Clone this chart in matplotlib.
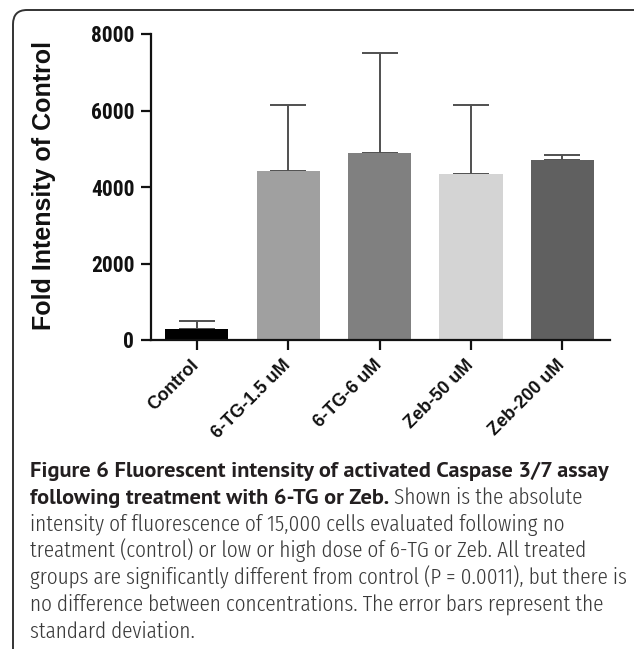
import matplotlib
matplotlib.use("Agg")
import matplotlib.pyplot as plt
from matplotlib.patches import FancyBboxPatch

categories = ["Control", "6-TG-1.5 uM", "6-TG-6 uM", "Zeb-50 uM", "Zeb-200 uM"]
means = [300, 4410, 4900, 4340, 4700]
sds = [190, 1740, 2600, 1810, 130]
colors = ["#000000", "#a0a0a0", "#808080", "#d4d4d4", "#606060"]
yticks = [0, 2000, 4000, 6000, 8000]

caption_lines = [
    [("Figure 6 Fluorescent intensity of activated Caspase 3/7 assay", "bold")],
    [("following treatment with 6-TG or Zeb.", "bold"), (" Shown is the absolute", "normal")],
    [("intensity of fluorescence of 15,000 cells evaluated following no", "normal")],
    [("treatment (control) or low or high dose of 6-TG or Zeb. All treated", "normal")],
    [("groups are significantly different from control (P = 0.0011), but there is", "normal")],
    [("no difference between concentrations. The error bars represent the", "normal")],
    [("standard deviation.", "normal")],
]

W, H = 634, 649
fig = plt.figure(figsize=(W / 100, H / 100), dpi=100)

# frame
frame = FancyBboxPatch((13 / W, -0.2), 1.2, (H - 10) / H + 0.2,
                       boxstyle="round,pad=0,rounding_size=0.022",
                       transform=fig.transFigure, fill=False,
                       edgecolor="#333333", linewidth=1.4, clip_on=False)
fig.patches.append(frame)

ax_l, ax_r, ax_t, ax_b = 151, 610, 34, 340
ax = fig.add_axes([ax_l / W, 1 - ax_b / H, (ax_r - ax_l) / W, (ax_b - ax_t) / H])
x = list(range(len(categories)))
ax.bar(x, means, width=0.69, color=colors, zorder=2)
ax.errorbar(x, means, yerr=[[0] * len(sds), sds], fmt="none", ecolor="#505050",
            elinewidth=1.4, capsize=13, capthick=1.4, zorder=1)
ax.set_xlim(-0.5, 4.52)
ax.set_ylim(0, 8000)
ax.set_yticks(yticks)
ax.set_yticklabels([str(v) for v in yticks], fontfamily=["Roboto Condensed", "DejaVu Sans"],
                   fontweight="bold", fontsize=15.5, color="#111111")
ax.set_xticks(x)
ax.set_xticklabels(categories, rotation=45, ha="right", va="center", rotation_mode="anchor",
                   fontfamily="Liberation Sans", fontweight="bold", fontsize=13, color="#111111")
for s in ["top", "right"]:
    ax.spines[s].set_visible(False)
for s in ["left", "bottom"]:
    ax.spines[s].set_linewidth(1.6)
    ax.spines[s].set_color("#111111")
ax.tick_params(axis="both", length=7, width=1.6, color="#111111", direction="out")
ax.tick_params(axis="x", pad=9)
ax.tick_params(axis="y", pad=5)

fig.text(44 / W, 1 - 186 / H, "Fold Intensity of Control", rotation=90,
         ha="center", va="center", fontfamily="Liberation Sans",
         fontweight="bold", fontsize=18, color="#111111")

# caption
fonts = {"bold": ["PT Sans", "DejaVu Sans"],
         "normal": ["Fira Sans Extra Condensed", "PT Sans Narrow", "DejaVu Sans"]}
weights = {"bold": "bold", "normal": 300}
fig.canvas.draw()
renderer = fig.canvas.get_renderer()

def width_of(text, kind, size):
    t = fig.text(0, 0, text, fontfamily=fonts[kind], fontweight=weights[kind], fontsize=size)
    w = t.get_window_extent(renderer=renderer).width
    t.remove()
    return w

bold_size = 12.0 * 581 / width_of(caption_lines[0][0][0], "bold", 12.0)
reg_targets = [553, 582, 577, 555]
reg_measured = [width_of(caption_lines[k][0][0], "normal", 12.0) for k in (2, 3, 4, 5)]
reg_size = 12.0 * sum(reg_targets) / sum(reg_measured)
sizes = {"bold": bold_size, "normal": reg_size}
cols = {"bold": "#231f20", "normal": "#3a3a3a"}

y0 = 477
dy = 26.8
for i, segs in enumerate(caption_lines):
    xpos = 30
    for text, kind in segs:
        t = fig.text(xpos / W, 1 - (y0 + i * dy) / H, text, fontfamily=fonts[kind],
                     fontweight=weights[kind], fontsize=sizes[kind], color=cols[kind],
                     va="baseline", ha="left")
        bb = t.get_window_extent(renderer=renderer)
        xpos = bb.x1

fig.savefig("out.png", dpi=100)
